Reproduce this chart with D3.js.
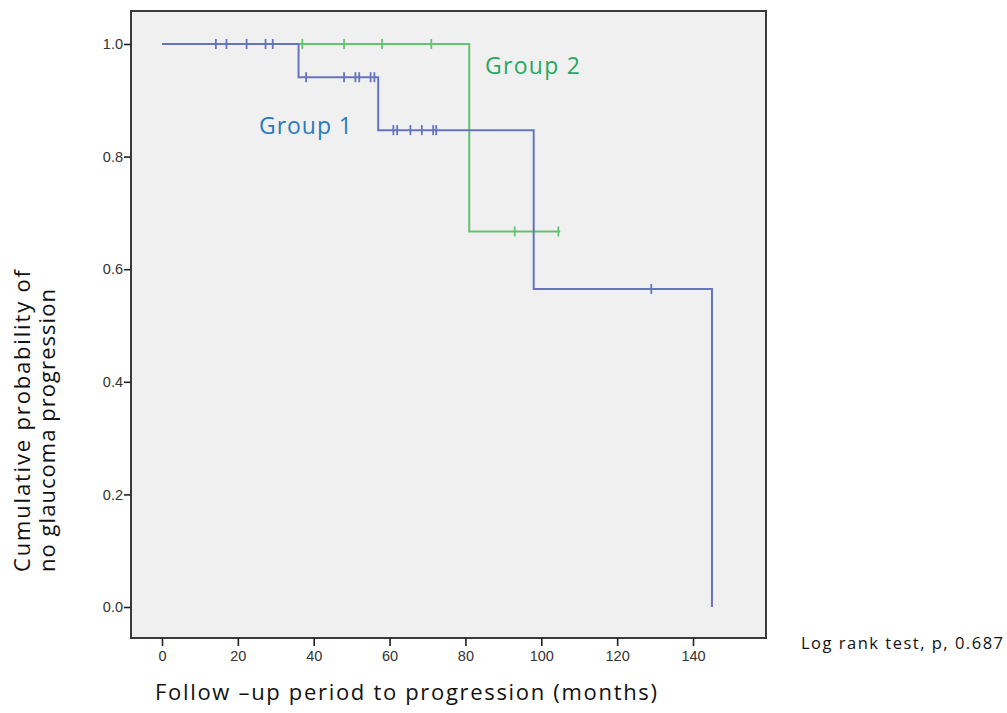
<!DOCTYPE html>
<html>
<head>
<meta charset="utf-8">
<script src="https://cdn.jsdelivr.net/npm/d3@7"></script>
<style>
  body { margin: 0; background: #ffffff; }
  text { font-family: "Open Sans", "Noto Sans", sans-serif; }
</style>
</head>
<body>
<script>
// survival steps: [time, probability] for each group
const group1Steps = [[0, 1.0], [36, 0.941], [57, 0.847], [98, 0.565], [145, 0.0]];
const group1End = 145;
const group1Censored = [14.2, 17.0, 22.3, 27.3, 29.2, 38, 48, 51, 52, 55, 56, 61, 62, 65.5, 68.5, 71.5, 72.3, 129];

const group2Steps = [[0, 1.0], [81, 0.667]];
const group2End = 105;
const group2Censored = [37, 48, 58, 71, 93, 104.5];

const xTicks = [0, 20, 40, 60, 80, 100, 120, 140];
const yTicks = [0.0, 0.2, 0.4, 0.6, 0.8, 1.0];

const W = 1007, H = 713;
const frame = { left: 131, right: 766, top: 11, bottom: 638 };

const svg = d3.select("body").append("svg")
  .attr("width", W)
  .attr("height", H);

const x = d3.scaleLinear().domain([0, 140]).range([162, 693]);
const y = d3.scaleLinear().domain([0, 1]).range([607, 44]);

// plot background + frame
svg.append("rect")
  .attr("x", frame.left)
  .attr("y", frame.top)
  .attr("width", frame.right - frame.left)
  .attr("height", frame.bottom - frame.top)
  .attr("fill", "#f0f0f0")
  .attr("stroke", "#3a3a3a")
  .attr("stroke-width", 2);

// axes
const yAxis = svg.append("g")
  .attr("transform", `translate(${frame.left},0)`)
  .call(d3.axisLeft(y).tickValues(yTicks).tickFormat(d3.format(".1f")).tickSize(7).tickSizeOuter(0));
const xAxis = svg.append("g")
  .attr("transform", `translate(0,${frame.bottom})`)
  .call(d3.axisBottom(x).tickValues(xTicks).tickSize(8).tickSizeOuter(0));

[yAxis, xAxis].forEach(g => {
  g.select(".domain").remove();
  g.selectAll("line").attr("stroke", "#222").attr("stroke-width", 1.6);
  g.selectAll("text")
    .attr("fill", "#333")
    .style("font-family", "'Liberation Sans', Arial, sans-serif")
    .style("font-size", "14.5px");
});
yAxis.selectAll("text").attr("x", -8);
xAxis.selectAll("text").attr("y", 13);

// step line builder
function stepPath(steps, end) {
  const pts = [];
  steps.forEach((s, i) => {
    if (i > 0) pts.push([s[0], steps[i - 1][1]]);
    pts.push(s);
  });
  const last = steps[steps.length - 1];
  if (end > last[0]) pts.push([end, last[1]]);
  return d3.line().x(d => x(d[0])).y(d => y(d[1]))(pts);
}

function survAt(steps, t) {
  let p = steps[0][1];
  steps.forEach(s => { if (s[0] <= t) p = s[1]; });
  return p;
}

const groups = [
  { steps: group2Steps, end: group2End, cens: group2Censored, color: "#62c46e" },
  { steps: group1Steps, end: group1End, cens: group1Censored, color: "#6574bd" }
];

groups.forEach(g => {
  svg.append("path")
    .attr("d", stepPath(g.steps, g.end))
    .attr("fill", "none")
    .attr("stroke", g.color)
    .attr("stroke-width", 2);
  svg.append("g").selectAll("line")
    .data(g.cens)
    .join("line")
    .attr("x1", d => x(d)).attr("x2", d => x(d))
    .attr("y1", d => y(survAt(g.steps, d)) - 5)
    .attr("y2", d => y(survAt(g.steps, d)) + 5)
    .attr("stroke", g.color)
    .attr("stroke-width", 1.8);
});

// group labels
svg.append("text")
  .attr("x", 485).attr("y", 74)
  .attr("fill", "#2aa860")
  .attr("textLength", 95)
  .style("font-size", "23px")
  .text("Group 2");
svg.append("text")
  .attr("x", 259).attr("y", 134)
  .attr("fill", "#2b7bbd")
  .attr("textLength", 93)
  .style("font-size", "23px")
  .text("Group 1");

// axis titles
svg.append("text")
  .attr("x", 155).attr("y", 700)
  .attr("fill", "#111")
  .attr("textLength", 502)
  .style("font-size", "22px")
  .text("Follow \u2013up period to progression  (months)");

svg.append("text")
  .attr("transform", "translate(30,572) rotate(-90)")
  .attr("fill", "#111")
  .attr("textLength", 302)
  .style("font-size", "22px")
  .text("Cumulative probability of");
svg.append("text")
  .attr("transform", "translate(55,572) rotate(-90)")
  .attr("fill", "#111")
  .attr("textLength", 283)
  .style("font-size", "22px")
  .text("no glaucoma progression");

svg.append("text")
  .attr("x", 801).attr("y", 649)
  .attr("fill", "#111")
  .attr("textLength", 202)
  .style("font-size", "16.5px")
  .text("Log rank test, p, 0.687");
</script>
</body>
</html>
